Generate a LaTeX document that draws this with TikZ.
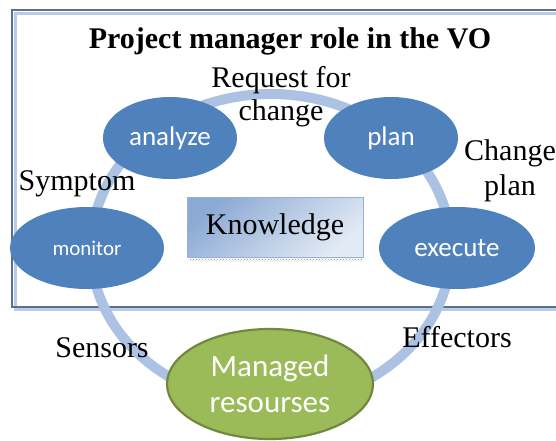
\documentclass[tikz,border=0pt]{standalone}
\usepackage{fontspec}
\setmainfont{Liberation Serif}
\newfontfamily\blobfont{Carlito}
\usetikzlibrary{shapes.geometric,patterns}

\definecolor{cycleblue}{HTML}{4F81BD}
\definecolor{ringblue}{RGB}{172,194,226}
\definecolor{resgreen}{HTML}{9BBB59}
\definecolor{resedge}{HTML}{71893F}
\definecolor{frameslate}{RGB}{92,112,142}
\definecolor{framelight}{RGB}{184,204,234}
\definecolor{kbdark}{RGB}{140,170,212}
\definecolor{kblight}{RGB}{226,234,245}
\definecolor{kbedge}{RGB}{150,176,214}

\begin{document}
\begin{tikzpicture}[
  x=1pt, y=-1pt,
  frameouter/.style={draw=frameslate, line width=1.4pt},
  frameinner/.style={draw=framelight, line width=3pt},
  ringtrack/.style={draw=ringblue, line width=10pt},
  stage/.style={ellipse, fill=cycleblue, text=white, inner sep=0pt, minimum height=82pt, font=\blobfont\fontsize{27}{30}\selectfont},
  resource/.style={ellipse, fill=resgreen, draw=resedge, line width=2.2pt, text=white, inner sep=0pt, align=center, font=\blobfont\fontsize{31}{36}\selectfont},
  knowbox/.style={draw=kbedge, line width=0.8pt, top color=kbdark, bottom color=kblight, shading angle=40, inner sep=0pt, font=\rmfamily\fontsize{30}{33}\selectfont},
  caption/.style={font=\rmfamily\fontsize{30}{33}\selectfont, inner sep=0pt},
  paneltitle/.style={font=\rmfamily\fontsize{30}{33}\selectfont\bfseries, inner sep=0pt}
]
  \useasboundingbox (0,0) rectangle (556,441);

  % frame around the VO part
  \draw[frameinner] (15.5,13.5) rectangle (600,309.5);
  \draw[frameouter] (12,10) rectangle (600,307);
  \node[paneltitle, anchor=base] (title) at (290,49) {Project manager role in the VO};

  % loop behind the stages
  \coordinate (hub) at (271,249);
  \draw[ringtrack] (hub) ellipse [x radius=180, y radius=155];

  \fill[pattern=crosshatch dots, pattern color=black!45] (190,256) rectangle (363,261);
  \node[knowbox, minimum width=176pt, minimum height=60pt] (know) at (275,227) {Knowledge};

  \node[stage, minimum width=134pt] (analyze) at (170,138) {analyze};
  \node[stage, minimum width=134pt] (plan) at (391,138) {plan};
  \node[stage, minimum width=154pt, font=\blobfont\fontsize{21}{24}\selectfont] (monitor) at (87,248) {monitor};
  \node[stage, minimum width=156pt] (execute) at (457,248) {execute};
  \node[resource, minimum width=206pt, minimum height=110pt] (managed) at (270,384) {Managed\\resourses};

  \node[caption, align=center, anchor=north] (request) at (281,66.5) {Request for\\change};
  \node[caption, align=center, anchor=north] (changeplan) at (510,139.5) {Change\\[2pt]plan};
  \node[caption, anchor=base] (symptom) at (77,190) {Symptom};
  \node[caption, anchor=base] (sensors) at (102,357) {Sensors};
  \node[caption, anchor=base] (effectors) at (457,347) {Effectors};
\end{tikzpicture}
\end{document}
